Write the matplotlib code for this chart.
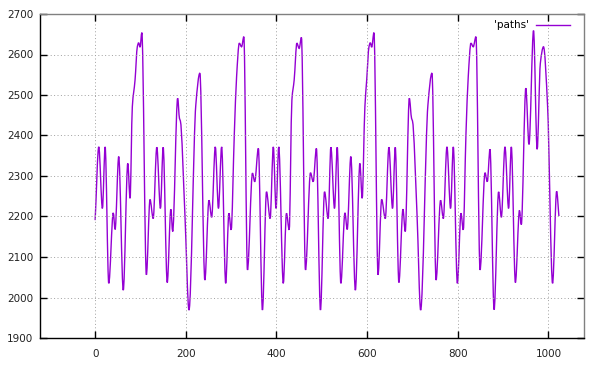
import matplotlib
matplotlib.use("Agg")
import matplotlib.pyplot as plt
from matplotlib.path import Path
from matplotlib.patches import PathPatch
from matplotlib.lines import Line2D

# knots (x, value)
xs = [0, 8, 16, 22, 30, 40, 44, 52, 62, 72, 77, 82, 88, 93, 96, 99, 103, 113, 121, 128,
      136, 144, 150, 159, 167, 171, 182, 186, 188, 198, 207, 222, 231, 242, 251, 257,
      265, 272, 279, 288, 295, 300, 307, 312, 318, 323, 328, 336, 347, 352, 360, 369,
      378, 386, 393, 399, 405, 415, 422, 428, 434, 439, 445, 450, 455, 464, 475, 481,
      488, 497, 506,
      514, 520, 528, 534, 542, 551, 556, 564, 574, 584, 589, 595, 599, 604, 607, 610,
      615, 624, 632, 640, 648, 656, 662, 670, 679, 684, 693, 698, 700, 710, 718, 734,
      743, 752, 762, 768, 776, 784, 790, 799, 807, 812, 818, 823, 829, 834, 840, 849,
      860, 865, 871, 880, 890, 896, 904, 912, 918, 927, 936, 940, 950, 957, 967, 975,
      982, 989, 998, 1009, 1018, 1023]
ys = [2191, 2372, 2220, 2372, 2035, 2209, 2168, 2348, 2018, 2331, 2245, 2471, 2537, 2619,
      2629, 2618, 2654, 2056, 2242, 2195, 2371, 2220, 2371, 2037, 2218, 2163, 2492, 2442,
      2436, 2205, 1969, 2475, 2554, 2043, 2240, 2198, 2372, 2220, 2372, 2035, 2208, 2167,
      2405, 2545, 2628, 2619, 2644, 2068, 2307, 2286, 2368, 1969, 2261, 2195, 2372, 2220,
      2372, 2035, 2208, 2167, 2488, 2537, 2628, 2615, 2642, 2068, 2308, 2286, 2368, 1969,
      2261,
      2195, 2371, 2220, 2371, 2035, 2209, 2168, 2348, 2018, 2331, 2245, 2471, 2537, 2619,
      2629, 2618, 2654, 2056, 2242, 2195, 2371, 2220, 2371, 2037, 2218, 2163, 2492, 2442,
      2436, 2205, 1969, 2475, 2554, 2043, 2240, 2195, 2372, 2220, 2372, 2035, 2208, 2167,
      2405, 2545, 2628, 2619, 2644, 2068, 2308, 2286, 2366, 1970, 2261, 2198, 2372, 2220,
      2372, 2037, 2215, 2180, 2517, 2378, 2659, 2366, 2578, 2619, 2473, 2035, 2262, 2201]

xticks = [0, 200, 400, 600, 800, 1000]
yticks = [1900, 2000, 2100, 2200, 2300, 2400, 2500, 2600, 2700]
series_label = "'paths'"
line_color = '#9400D3'


def smooth_path(x, y):
    """Monotone cubic (Fritsch-Carlson) Bezier path through the knots."""
    n = len(x)
    h = [x[i + 1] - x[i] for i in range(n - 1)]
    d = [(y[i + 1] - y[i]) / h[i] for i in range(n - 1)]
    m = [0.0] * n
    m[0], m[-1] = d[0], d[-1]
    for i in range(1, n - 1):
        if d[i - 1] * d[i] <= 0:
            m[i] = 0.0
        else:
            w1 = 2 * h[i] + h[i - 1]
            w2 = h[i] + 2 * h[i - 1]
            m[i] = (w1 + w2) / (w1 / d[i - 1] + w2 / d[i])
    verts = [(x[0], y[0])]
    codes = [Path.MOVETO]
    for i in range(n - 1):
        verts += [(x[i] + h[i] / 3, y[i] + m[i] * h[i] / 3),
                  (x[i + 1] - h[i] / 3, y[i + 1] - m[i + 1] * h[i] / 3),
                  (x[i + 1], y[i + 1])]
        codes += [Path.CURVE4] * 3
    return Path(verts, codes)


plt.rcParams['font.family'] = ['DejaVu Sans']
fig = plt.figure(figsize=(5.96, 3.66), dpi=100)
ax = fig.add_axes([40.3 / 596, 1 - 338 / 366, (584.3 - 40.3) / 596, (338 - 14) / 366])

ax.add_patch(PathPatch(smooth_path(xs, ys), fill=False, edgecolor=line_color, lw=1.0,
                       transform=ax.transData))

ax.set_xlim(-121, 1079)
ax.set_ylim(1900, 2700)
ax.set_xticks(xticks)
ax.set_yticks(yticks)
ax.tick_params(direction='in', length=5, width=1, top=True, right=True,
               labelsize=7.5, labelcolor='#222222')
ax.tick_params(axis='x', pad=8)
ax.tick_params(axis='y', pad=5)
ax.grid(True, color='#a0a0a0', linestyle=(0, (1, 2.5)), linewidth=0.7)

for s in ['left', 'bottom']:
    ax.spines[s].set_color('black')
    ax.spines[s].set_linewidth(1)
for s in ['top', 'right']:
    ax.spines[s].set_color('#808080')
    ax.spines[s].set_linewidth(1)

handle = Line2D([], [], color=line_color, lw=1.0)
ax.legend([handle], [series_label], loc='upper right', markerfirst=False, frameon=False,
          fontsize=7.5, handlelength=3.3, handletextpad=0.6, borderaxespad=0.2,
          bbox_to_anchor=(0.985, 1.0))

fig.savefig('out.png', dpi=100)
